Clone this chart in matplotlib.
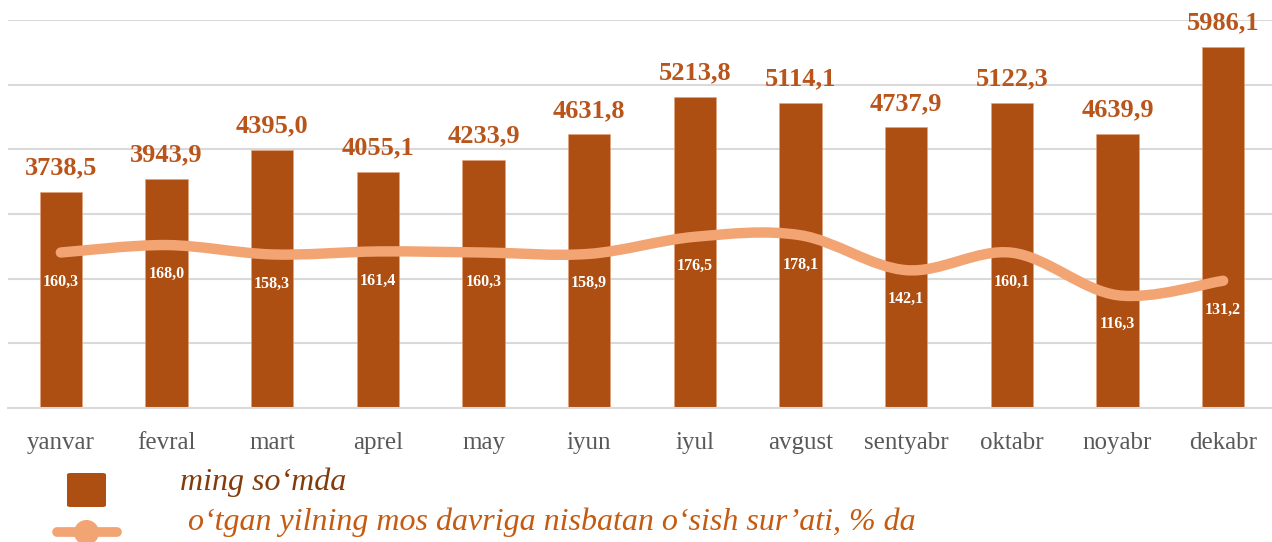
import numpy as np
import matplotlib
matplotlib.use('Agg')
import matplotlib.pyplot as plt
from matplotlib.path import Path
from matplotlib.patches import PathPatch, FancyBboxPatch
from matplotlib.lines import Line2D

# data
months = ['yanvar', 'fevral', 'mart', 'aprel', 'may', 'iyun', 'iyul',
          'avgust', 'sentyabr', 'oktabr', 'noyabr', 'dekabr']
amount = [3738.5, 3943.9, 4395.0, 4055.1, 4233.9, 4631.8, 5213.8,
          5114.1, 4737.9, 5122.3, 4639.9, 5986.1]
growth = [160.3, 168.0, 158.3, 161.4, 160.3, 158.9, 176.5,
          178.1, 142.1, 160.1, 116.3, 131.2]
legend_bar = 'ming so‘mda'
legend_line = 'o‘tgan yilning mos davriga nisbatan o‘sish sur’ati, % da'

bar_color = '#AD4E12'
line_color = '#F2A473'
grid_color = '#D9D9D9'
serif = ['Liberation Serif', 'DejaVu Serif']

W, H = 1272, 542
fig = plt.figure(figsize=(W / 100, H / 100), dpi=100)
ax = fig.add_axes([8 / W, 1 - 408 / H, 1268 / W, 388 / H])
ax2 = ax.twinx()

x = np.arange(len(months))
ax.bar(x, amount, width=0.4, color=bar_color, edgecolor='#E8A27A', linewidth=0.4, zorder=2)
ax.set_xlim(-0.5, len(months) - 0.5)
ax.set_ylim(400, 6400)
ax.set_yticks(np.arange(400, 6401, 1000))
ax.yaxis.grid(True, color=grid_color, linewidth=1.5, zorder=0)
ax.set_axisbelow(True)
ax.tick_params(axis='y', length=0, labelleft=False)
ax.tick_params(axis='x', length=0, pad=17)
ax.set_xticks(x)
ax.set_xticklabels(months, fontsize=18, color='#595959', family=serif)
for s in ['top', 'left', 'right']:
    ax.spines[s].set_visible(False)
ax.spines['bottom'].set_color(grid_color)
ax.spines['bottom'].set_linewidth(1.5)

for xi, v in zip(x, amount):
    ax.annotate(f'{v:.1f}'.replace('.', ','), (xi, v), xytext=(0, 9),
                textcoords='offset points', ha='center', va='bottom',
                fontsize=19, fontweight='bold', color='#B9541A', family=serif)

# smoothed line (excel style bezier through the points)
ax2.set_ylim(0, 400)
ax2.axis('off')
pts = np.column_stack([x, growth]).astype(float)
verts = [pts[0]]
codes = [Path.MOVETO]
n = len(pts)
for i in range(n - 1):
    p0 = pts[max(i - 1, 0)]
    p1 = pts[i]
    p2 = pts[i + 1]
    p3 = pts[min(i + 2, n - 1)]
    verts += [p1 + (p2 - p0) / 6, p2 - (p3 - p1) / 6, p2]
    codes += [Path.CURVE4] * 3
ax2.add_patch(PathPatch(Path(verts, codes), facecolor='none', edgecolor=line_color,
                        linewidth=7.5, capstyle='round', joinstyle='round', zorder=3))

for xi, v in zip(x, growth):
    ax2.annotate(f'{v:.1f}'.replace('.', ','), (xi, v), xytext=(0, -21),
                 textcoords='offset points', ha='center', va='center',
                 fontsize=11.5, fontweight='bold', color='white', family=serif, zorder=4)

# legend drawn by hand
fig.patches.append(FancyBboxPatch((67 / W, 1 - 507 / H), 39 / W, 34 / H,
                                  boxstyle='round,pad=0,rounding_size=0.003',
                                  transform=fig.transFigure, facecolor=bar_color,
                                  edgecolor='none'))
fig.lines.append(Line2D([57 / W, 117 / W], [1 - 532 / H] * 2, transform=fig.transFigure,
                        color=line_color, linewidth=7, solid_capstyle='round'))
fig.lines.append(Line2D([86 / W], [1 - 532 / H], transform=fig.transFigure,
                        marker='o', markersize=17, color=line_color, linestyle='none'))
fig.text(180 / W, 1 - 482 / H, legend_bar, fontsize=23, style='italic',
         color='#843C0C', family=serif, va='center')
fig.text(188 / W, 1 - 522 / H, legend_line, fontsize=23, style='italic',
         color='#C55A11', family=serif, va='center')

fig.savefig('out.png', dpi=100)
